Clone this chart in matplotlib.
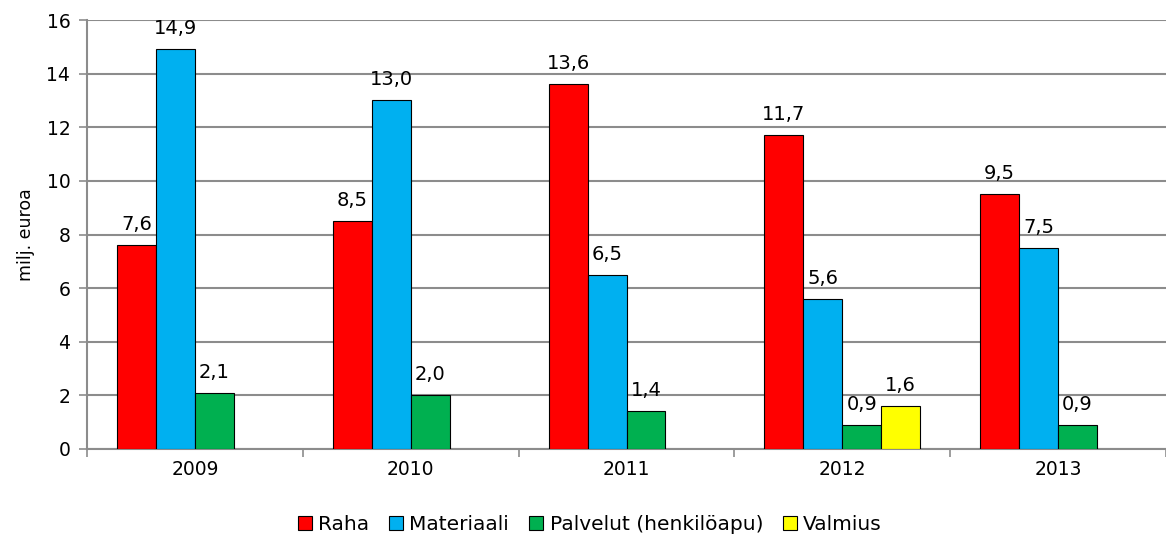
import numpy as np
import matplotlib
matplotlib.use("Agg")
import matplotlib.pyplot as plt

years = ["2009", "2010", "2011", "2012", "2013"]
series_names = ["Raha", "Materiaali", "Palvelut (henkilöapu)", "Valmius"]
raha = [7.6, 8.5, 13.6, 11.7, 9.5]
materiaali = [14.9, 13.0, 6.5, 5.6, 7.5]
palvelut = [2.1, 2.0, 1.4, 0.9, 0.9]
valmius = [np.nan, np.nan, np.nan, 1.6, np.nan]
colors = ["#FF0000", "#00B0F0", "#00B050", "#FFFF00"]

plt.rcParams['font.family'] = ['DejaVu Sans']

fig = plt.figure(figsize=(11.66, 5.41), dpi=100)
ax = fig.add_axes([87 / 1166, 1 - 449 / 541, 1 - 87 / 1166, (449 - 20) / 541])

x = np.arange(len(years))
w = 39 / 216
data = [raha, materiaali, palvelut, valmius]
for i, (vals, name, c) in enumerate(zip(data, series_names, colors)):
    pos = x + (i - 1.5) * w
    ax.bar(pos, vals, w, color=c, edgecolor="black", linewidth=0.8,
           label=name, zorder=3)
    for p, v in zip(pos, vals):
        if np.isnan(v):
            continue
        ax.annotate(f"{v:.1f}".replace(".", ","), (p, v), xytext=(0, 8),
                    textcoords="offset points", ha="center", va="bottom",
                    fontsize=14)

ax.set_xlim(-0.5, len(years) - 0.5)
ax.set_ylim(0, 16)
ax.set_yticks(range(0, 17, 2))
ax.set_xticks(x)
ax.set_xticklabels(years)
ax.set_xticks(np.arange(-0.5, len(years), 1), minor=True)
ax.tick_params(axis="x", which="major", length=0, pad=8, labelsize=13.5)
ax.tick_params(axis="x", which="minor", length=6, color="#8c8c8c", width=1.2)
ax.tick_params(axis="y", length=6, color="#8c8c8c", width=1.2, labelsize=13.5,
               pad=6)
ax.yaxis.grid(True, color="#8c8c8c", linewidth=1.5, zorder=0)
ax.set_axisbelow(True)
for s in ["top", "right"]:
    ax.spines[s].set_visible(False)
for s in ["left", "bottom"]:
    ax.spines[s].set_color("#8c8c8c")
    ax.spines[s].set_linewidth(1.5)
ax.set_ylabel("milj. euroa", fontsize=12.5, labelpad=8)

fig.legend(loc="center", bbox_to_anchor=(0.506, 0.03), ncol=4, frameon=False,
           fontsize=14.5, handlelength=0.7, handleheight=0.7, handletextpad=0.3,
           columnspacing=1.0)

fig.savefig("out.png", dpi=100)
